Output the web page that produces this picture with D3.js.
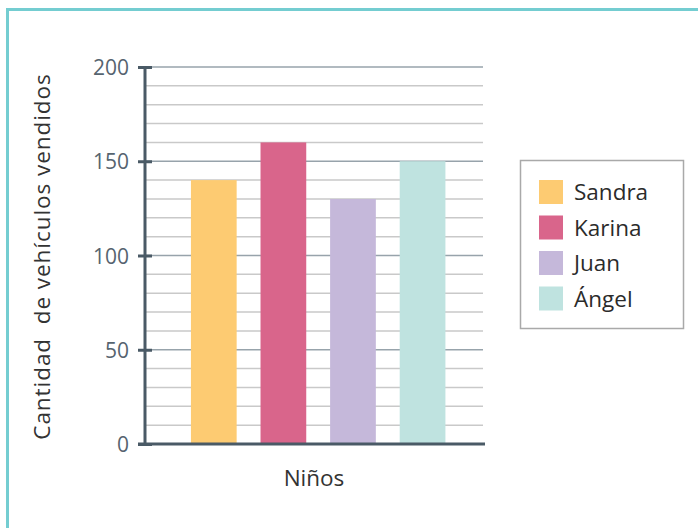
<!DOCTYPE html>
<html>
<head>
<meta charset="utf-8">
<script src="https://cdn.jsdelivr.net/npm/d3@7"></script>
<style>
  body { margin: 0; background: #fff; }
  svg { display: block; font-family: "Open Sans", "Noto Sans", sans-serif; }
</style>
</head>
<body>
<div id="chart"></div>
<script>
// data
const names = ["Sandra", "Karina", "Juan", "Ángel"];
const sold = [140, 160, 130, 150];
const colors = ["#fdcb72", "#d9658b", "#c5b8da", "#bfe3e0"];
const majorTicks = [0, 50, 100, 150, 200];
const minorTicks = d3.range(10, 201, 10);

const width = 698, height = 528;
const margin = {top: 67, right: 215, bottom: 84, left: 145};

const svg = d3.select("#chart").append("svg")
    .attr("width", width)
    .attr("height", height);

// teal frame, open on right and bottom
svg.append("rect")
    .attr("x", 7.5).attr("y", 9.5)
    .attr("width", 720).attr("height", 560)
    .attr("fill", "none")
    .attr("stroke", "#74cdd1")
    .attr("stroke-width", 3);

const x = d3.scaleBand()
    .domain(names)
    .range([margin.left, width - margin.right])
    .paddingInner(0.343)
    .paddingOuter(0.6)
    .align(0.55);

const y = d3.scaleLinear()
    .domain([0, 200])
    .range([height - margin.bottom, margin.top]);

// gridlines (light every 10, darker every 50)
svg.append("g")
    .selectAll("line")
    .data(minorTicks)
    .join("line")
    .attr("x1", margin.left)
    .attr("x2", width - margin.right)
    .attr("y1", d => y(d))
    .attr("y2", d => y(d))
    .attr("stroke", d => d % 50 === 0 ? "#97a3ab" : "#c9c9c9")
    .attr("stroke-width", 1.5);

// bars
svg.append("g")
    .selectAll("rect")
    .data(names)
    .join("rect")
    .attr("x", d => x(d))
    .attr("y", (d, i) => y(sold[i]))
    .attr("width", x.bandwidth())
    .attr("height", (d, i) => y(0) - y(sold[i]))
    .attr("fill", (d, i) => colors[i]);

// y axis
const yAxis = svg.append("g")
    .attr("transform", `translate(${margin.left},0)`)
    .call(d3.axisLeft(y).tickValues(majorTicks).tickSize(7).tickPadding(10));
yAxis.select(".domain").remove();
yAxis.selectAll(".tick line")
    .attr("x2", 7)
    .attr("x1", -7)
    .attr("stroke", "#4a5a66")
    .attr("stroke-width", 3);
yAxis.selectAll(".tick text")
    .attr("x", -16)
    .attr("dy", "0.36em")
    .attr("font-size", 21)
    .attr("fill", "#56646f")
    .attr("font-family", "Open Sans, sans-serif");

svg.append("line")
    .attr("x1", margin.left).attr("x2", margin.left)
    .attr("y1", y(200) - 1).attr("y2", y(0) + 1.5)
    .attr("stroke", "#4a5a66")
    .attr("stroke-width", 3);

// x axis baseline
svg.append("line")
    .attr("x1", margin.left - 7).attr("x2", width - margin.right + 2)
    .attr("y1", y(0)).attr("y2", y(0))
    .attr("stroke", "#4a5a66")
    .attr("stroke-width", 3);

// axis titles
svg.append("text")
    .attr("x", (x.range()[0] + x.range()[1]) / 2)
    .attr("y", 486)
    .attr("text-anchor", "middle")
    .attr("font-size", 22.5)
    .attr("fill", "#333")
    .text("Niños");

svg.append("text")
    .attr("transform", `translate(50, ${(y(0) + y(200)) / 2 + 1}) rotate(-90)`)
    .attr("text-anchor", "middle")
    .attr("font-size", 22.5)
    .attr("letter-spacing", 0.95)
    .attr("fill", "#333")
    .style("white-space", "pre")
    .text("Cantidad  de vehículos vendidos");

// legend
const legend = svg.append("g").attr("transform", "translate(520,160)");
legend.append("rect")
    .attr("x", 0.5).attr("y", 0.5)
    .attr("width", 163).attr("height", 168)
    .attr("fill", "#fff")
    .attr("stroke", "#a9a9a9")
    .attr("stroke-width", 1.5);

const items = legend.selectAll("g.item")
    .data(names)
    .join("g")
    .attr("class", "item")
    .attr("transform", (d, i) => `translate(19, ${20 + i * 35.5})`);
items.append("rect")
    .attr("width", 24).attr("height", 24)
    .attr("fill", (d, i) => colors[i]);
items.append("text")
    .attr("x", 35)
    .attr("y", 20)
    .attr("font-size", 22.5)
    .attr("fill", "#2b2b2b")
    .text(d => d);
</script>
</body>
</html>
